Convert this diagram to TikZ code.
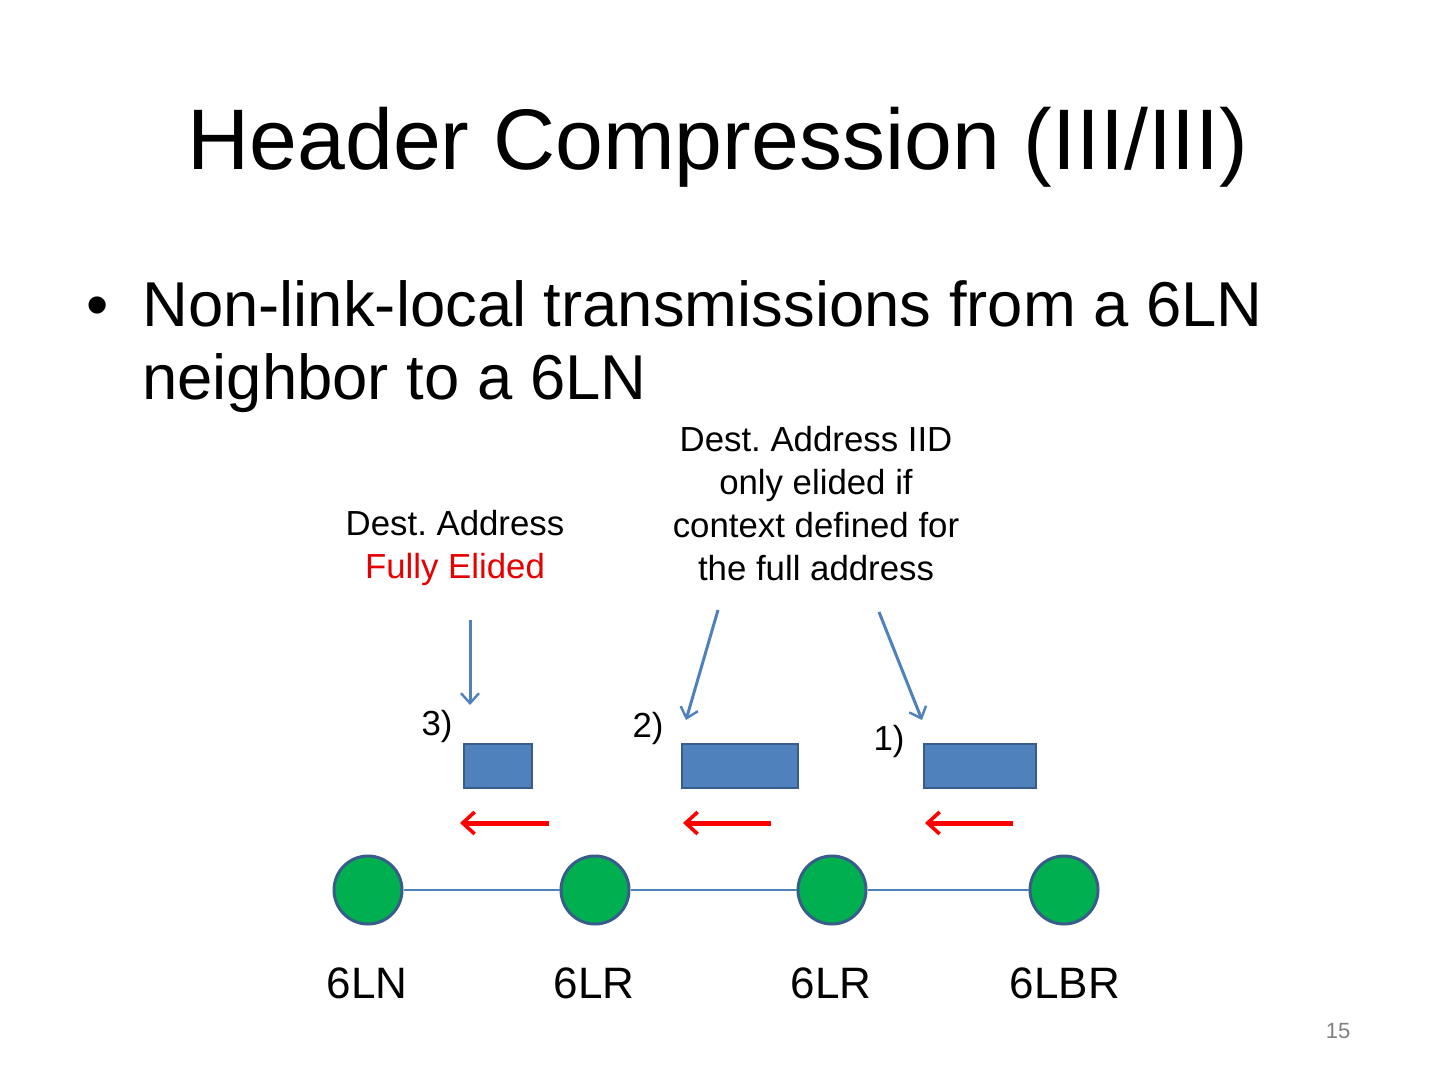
\documentclass[tikz,border=0pt]{standalone}
\usepackage{fontspec}
\setmainfont{Liberation Sans}
\usetikzlibrary{arrows.meta}
\definecolor{hcblue}{RGB}{79,129,189}
\definecolor{hcedge}{RGB}{56,93,138}
\definecolor{hcgreen}{RGB}{0,176,80}
\definecolor{hcred}{RGB}{230,0,0}
\frenchspacing
\begin{document}
\begin{tikzpicture}[x=0.5pt,y=-0.5pt]
			\tikzset{hcnode/.style={circle, draw=hcedge, fill=hcgreen,
						line width=1.5pt, minimum size=34pt, inner sep=0pt}}
			\tikzset{hcbox/.style={rectangle, draw=hcedge, fill=hcblue,
						line width=1pt, minimum height=22pt, inner sep=0pt}}
			\tikzset{hcline/.style={draw=hcblue, line width=1pt}}
			\tikzset{hcpoint/.style={draw=hcblue, line width=1.5pt,
						-{Straight Barb[length=5pt,width=9pt,line width=1.2pt]}}}
			\tikzset{hcmove/.style={draw=red, line width=2.5pt,
						-{Straight Barb[length=6pt,width=11pt,line width=1.8pt]}}}
			\tikzset{hcnote/.style={align=center, inner sep=0pt,
						font=\fontsize{17.4}{21.5}\selectfont}}

				\useasboundingbox[fill=white] (0,0) rectangle (1440,1080);

				% title and bullet
				\node[anchor=base, inner sep=0pt, font=\fontsize{43}{50}\selectfont] (title) at (718,170) {Header Compression (III/III)};
				\node[anchor=base west, inner sep=0pt, font=\fontsize{31.7}{36}\selectfont] (dot) at (86,327) {•};
				\node[anchor=base west, inner sep=0pt, font=\fontsize{31.7}{36}\selectfont] (line1) at (142,327) {Non-link-local transmissions from a 6LN};
				\node[anchor=base west, inner sep=0pt, font=\fontsize{31.7}{36}\selectfont] (line2) at (142,400) {neighbor to a 6LN};

				% notes
				\node[hcnote] (noteA) at (455,548) {Dest. Address\\ \textcolor{hcred}{Fully Elided}};
				\node[hcnote] (noteB) at (816,504) {Dest. Address IID\\only elided if\\context defined for\\the full address};

				% frames
				\node[hcbox, minimum width=34pt] (f3) at (498,766) {};
				\node[hcbox, minimum width=58pt] (f2) at (740,766) {};
				\node[hcbox, minimum width=56pt] (f1) at (980,766) {};
				\node[hcnote] (k3) at (437,726) {3)};
				\node[hcnote] (k2) at (648,728) {2)};
				\node[hcnote] (k1) at (889,741) {1)};

				\coordinate (p3s) at (470,620);
				\coordinate (p3e) at (470,705);
				\coordinate (p2s) at (718,610);
				\coordinate (p2e) at (686,720);
				\coordinate (p1s) at (879,612);
				\coordinate (p1e) at (922,720);
				\draw[hcpoint] (p3s) -- (p3e);
				\draw[hcpoint] (p2s) -- (p2e);
				\draw[hcpoint] (p1s) -- (p1e);

				\coordinate (m3s) at (549,823);
				\coordinate (m3e) at (460,823);
				\coordinate (m2s) at (771,823);
				\coordinate (m2e) at (683,823);
				\coordinate (m1s) at (1013,823);
				\coordinate (m1e) at (925,823);
				\draw[hcmove] (m3s) -- (m3e);
				\draw[hcmove] (m2s) -- (m2e);
				\draw[hcmove] (m1s) -- (m1e);

				% nodes
				\node[hcnode] (n1) at (368,890) {};
				\node[hcnode] (n2) at (595,890) {};
				\node[hcnode] (n3) at (832,890) {};
				\node[hcnode] (n4) at (1064,890) {};

				\draw[hcline] (n1) -- (n2);
				\draw[hcline] (n2) -- (n3);
				\draw[hcline] (n3) -- (n4);

				\node[anchor=base, inner sep=0pt, font=\fontsize{22}{26}\selectfont] (l1) at (367,998) {6LN};
				\node[anchor=base, inner sep=0pt, font=\fontsize{22}{26}\selectfont] (l2) at (594,998) {6LR};
				\node[anchor=base, inner sep=0pt, font=\fontsize{22}{26}\selectfont] (l3) at (831,998) {6LR};
				\node[anchor=base, inner sep=0pt, font=\fontsize{22}{26}\selectfont] (l4) at (1065,998) {6LBR};
				\node[anchor=base, inner sep=0pt, text=gray, font=\fontsize{11}{13}\selectfont] (page) at (1338,1038) {15};
		\end{tikzpicture}
\end{document}
